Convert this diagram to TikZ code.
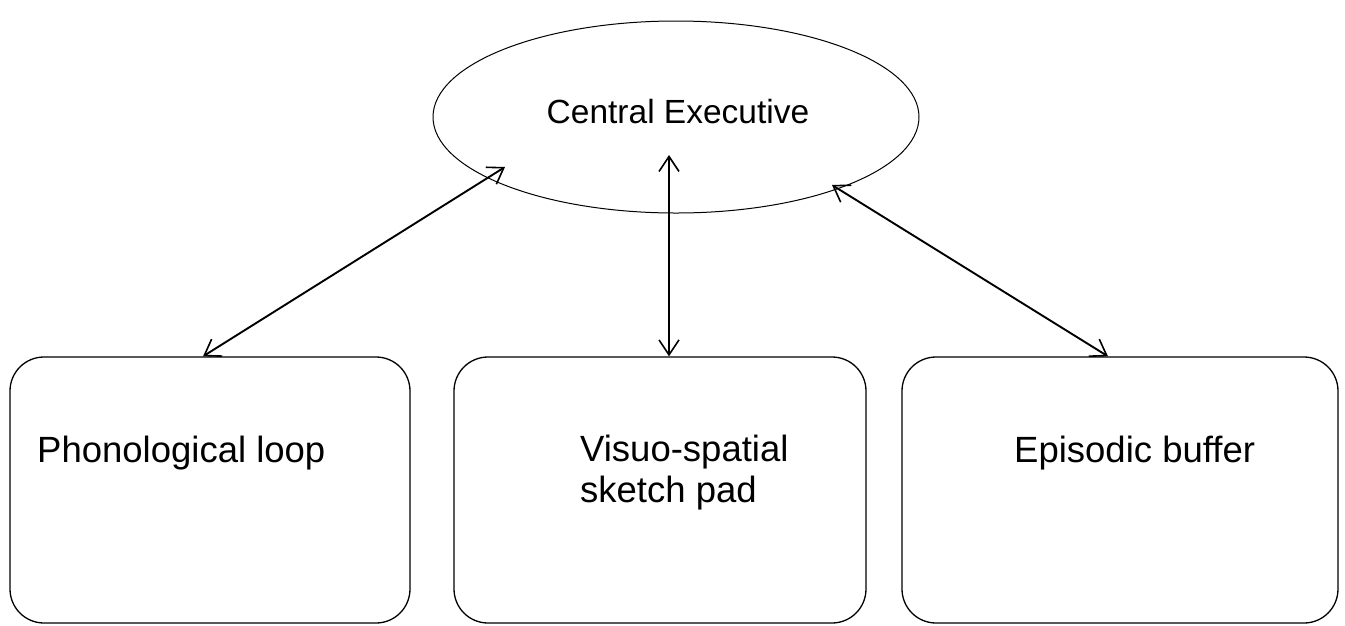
\documentclass[tikz,border=0pt]{standalone}
\usepackage{fontspec}
\setmainfont{Liberation Sans}
\usetikzlibrary{arrows.meta}
\tikzset{
  membox/.style={draw=black, line width=1.3pt, rounded corners=34pt, inner sep=0pt},
  lbl/.style={font=\fontsize{36.5}{41}\selectfont, inner sep=0pt, align=left},
  link/.style={line width=1.9pt, {Straight Barb[length=15pt,width=20pt,line width=1.6pt]}-{Straight Barb[length=15pt,width=20pt,line width=1.6pt]}}
}
\begin{document}
\begin{tikzpicture}[x=1pt,y=-1pt]
\useasboundingbox (0,0) rectangle (1345,625);
% central executive
\draw[line width=1pt] (676,117) ellipse [x radius=243pt, y radius=96pt];
\node[inner sep=0pt, minimum width=486pt, minimum height=192pt] (ce) at (676,117) {};
\node[font=\fontsize{33.5}{38}\selectfont, inner sep=0pt, anchor=base] (cet) at (678,123) {Central Executive};
% boxes
\node[membox, minimum width=400pt, minimum height=266pt] (pl) at (210,490) {};
\node[membox, minimum width=412pt, minimum height=266pt] (vs) at (660,490) {};
\node[membox, minimum width=436pt, minimum height=266pt] (eb) at (1120,490) {};
% labels
\node[lbl, anchor=base west] (plt) at (37,462) {Phonological loop};
\node[lbl, anchor=north west] (vst) at (580,435) {Visuo-spatial\\sketch pad};
\node[lbl, anchor=base west] (ebt) at (1014,462) {Episodic buffer};
% arrow ends on the ellipse
\coordinate (ceL) at (505,167);
\coordinate (ceM) at (669,155);
\coordinate (ceR) at (832,185);
\draw[link] ([xshift=-7pt]pl.north) -- (ceL);
\draw[link] ([xshift=9pt]vs.north) -- (ceM);
\draw[link] ([xshift=-12pt]eb.north) -- (ceR);
\end{tikzpicture}
\end{document}
